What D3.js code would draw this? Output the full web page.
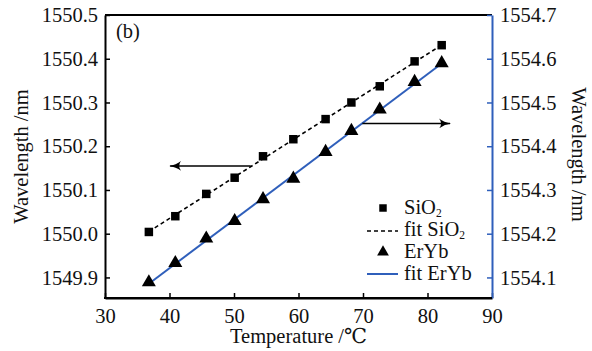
<!DOCTYPE html>
<html><head><meta charset="utf-8">
<script src="https://cdn.jsdelivr.net/npm/d3@7"></script>
<style>body{margin:0;background:#fff}svg{display:block}svg text{font-family:"Liberation Serif","DejaVu Serif",serif !important;fill:#111}</style>
</head><body><svg id="c" width="592" height="351"></svg>
<script>
const temps = [36.8, 40.9, 45.7, 50.1, 54.5, 59.2, 64.2, 68.2, 72.6, 78.0, 82.2];
const sio2  = [1550.004, 1550.040, 1550.091, 1550.128, 1550.177, 1550.216, 1550.262, 1550.300, 1550.337, 1550.394, 1550.431];
const erYb  = [1554.089, 1554.133, 1554.189, 1554.229, 1554.279, 1554.326, 1554.387, 1554.435, 1554.484, 1554.547, 1554.590];
const xTicks = [30, 40, 50, 60, 70, 80, 90];
const leftTicks = [1549.9, 1550.0, 1550.1, 1550.2, 1550.3, 1550.4, 1550.5];
const rightTicks = [1554.1, 1554.2, 1554.3, 1554.4, 1554.5, 1554.6, 1554.7];
const xDomain = [30, 90];
const leftDomain = [1549.853, 1550.5];
const rightDomain = [1554.053, 1554.7];
// annotation arrows in data coords
const leftArrow = {x1: 52.6, x2: 40.1, y: 1550.155};
const rightArrow = {x1: 69.9, x2: 83.5, y: 1554.452};

const blue = "#2f5fbb";
const FONT = "'Liberation Serif','DejaVu Serif',serif";
const svg = d3.select("#c");
const L = 105, R = 492, T = 15, B = 298;
const x = d3.scaleLinear().domain(xDomain).range([L, R]);
const yL = d3.scaleLinear().domain(leftDomain).range([B, T]);
const yR = d3.scaleLinear().domain(rightDomain).range([B, T]);
const FS = 20.5;

svg.append("defs").append("marker").attr("id","ah").attr("viewBox","0 0 12 10")
  .attr("refX",11).attr("refY",5).attr("markerWidth",12).attr("markerHeight",10)
  .attr("markerUnits","userSpaceOnUse").attr("orient","auto")
  .append("path").attr("d","M0,0 Q5,4 12,5 Q5,6 0,10 Q4,5 0,0 Z").attr("fill","#000");

// frame top
svg.append("line").attr("x1",L).attr("x2",R).attr("y1",T).attr("y2",T).attr("stroke","#000").attr("stroke-width",2);

function styleText(g){
  g.attr("font-family",FONT).attr("font-size",FS);
  g.selectAll("text").attr("font-size",FS).attr("font-family",FONT).attr("fill","#111");
}
// bottom axis
const gx = svg.append("g").attr("transform",`translate(0,${B})`)
  .call(d3.axisBottom(x).tickValues(xTicks).tickSizeInner(-5).tickSizeOuter(0).tickPadding(10));
gx.select(".domain").attr("stroke","#000").attr("stroke-width",2);
gx.selectAll(".tick line").attr("stroke","#000").attr("stroke-width",1.5);
styleText(gx);

// left axis
const gl = svg.append("g").attr("transform",`translate(${L},0)`)
  .call(d3.axisLeft(yL).tickValues(leftTicks).tickFormat(d3.format(".1f")).tickSizeInner(-5).tickSizeOuter(0).tickPadding(7));
gl.select(".domain").attr("stroke","#000").attr("stroke-width",2);
gl.selectAll(".tick line").attr("stroke","#000").attr("stroke-width",1.5);
styleText(gl);

// right axis
const gr = svg.append("g").attr("transform",`translate(${R},0)`)
  .call(d3.axisRight(yR).tickValues(rightTicks).tickFormat(d3.format(".1f")).tickSizeInner(-5).tickSizeOuter(0).tickPadding(8));
gr.select(".domain").attr("stroke",blue).attr("stroke-width",2);
gr.selectAll(".tick line").attr("stroke",blue).attr("stroke-width",1.5);
styleText(gr);
svg.append("line").attr("x1",L-1).attr("x2",R).attr("y1",B).attr("y2",B).attr("stroke","#000").attr("stroke-width",2);

// fits
function fit(xs, ys){
  const mx = d3.mean(xs), my = d3.mean(ys);
  const b = d3.sum(xs,(d,i)=>(d-mx)*(ys[i]-my))/d3.sum(xs,d=>(d-mx)*(d-mx));
  return t => my + b*(t-mx);
}
const f1 = fit(temps, sio2), f2 = fit(temps, erYb);
const x0 = temps[0], x1 = temps[temps.length-1];
svg.append("line").attr("x1",x(x0)).attr("x2",x(x1)).attr("y1",yL(f1(x0))).attr("y2",yL(f1(x1)))
  .attr("stroke","#000").attr("stroke-width",1.6).attr("stroke-dasharray","4,3");
svg.append("line").attr("x1",x(x0)).attr("x2",x(x1)).attr("y1",yR(f2(x0))).attr("y2",yR(f2(x1)))
  .attr("stroke",blue).attr("stroke-width",2);

// markers
const sq = d3.symbol().type(d3.symbolSquare).size(72);
const tri = d3.symbol().type(d3.symbolTriangle).size(85);
svg.selectAll(".sq").data(temps).join("path").attr("d",sq)
  .attr("transform",(d,i)=>`translate(${x(d)},${yL(sio2[i])})`).attr("fill","#000");
svg.selectAll(".tri").data(temps).join("path").attr("d",tri)
  .attr("transform",(d,i)=>`translate(${x(d)},${yR(erYb[i])})`).attr("fill","#000");

// arrows
svg.append("line").attr("x1",x(leftArrow.x1)).attr("x2",x(leftArrow.x2)).attr("y1",yL(leftArrow.y)).attr("y2",yL(leftArrow.y))
  .attr("stroke","#000").attr("stroke-width",1.5).attr("marker-end","url(#ah)");
svg.append("line").attr("x1",x(rightArrow.x1)).attr("x2",x(rightArrow.x2)).attr("y1",yR(rightArrow.y)).attr("y2",yR(rightArrow.y))
  .attr("stroke","#000").attr("stroke-width",1.5).attr("marker-end","url(#ah)");

function txt(sel){ return sel.attr("font-family",FONT).attr("font-size",FS).attr("fill","#111"); }
// panel label
txt(svg.append("text")).attr("x",116).attr("y",38).text("(b)");

// axis titles
txt(svg.append("text")).attr("x",(L+R)/2).attr("y",343).attr("text-anchor","middle").text("Temperature /℃");
txt(svg.append("text")).attr("transform",`translate(28,${(T+B)/2}) rotate(-90)`).attr("text-anchor","middle").text("Wavelength /nm");
txt(svg.append("text")).attr("transform",`translate(572,${(T+B)/2 - 2}) rotate(90)`).attr("text-anchor","middle").text("Wavelength /nm");

// legend
const lg = svg.append("g");
const lx = 383, tx = 404;
const rows = [214, 236, 258, 280];
lg.append("path").attr("d",d3.symbol().type(d3.symbolSquare).size(56)).attr("transform",`translate(${lx},${rows[0]-6})`).attr("fill","#000");
lg.append("line").attr("x1",367).attr("x2",398).attr("y1",rows[1]-5).attr("y2",rows[1]-5).attr("stroke","#000").attr("stroke-width",1.6).attr("stroke-dasharray","4,3");
lg.append("path").attr("d",d3.symbol().type(d3.symbolTriangle).size(60)).attr("transform",`translate(${lx},${rows[2]-6})`).attr("fill","#000");
lg.append("line").attr("x1",367).attr("x2",398).attr("y1",rows[3]-6).attr("y2",rows[3]-6).attr("stroke",blue).attr("stroke-width",2);
function sub(t, main){
  const e = txt(lg.append("text")).attr("x",tx).attr("y",t);
  e.append("tspan").text(main);
  e.append("tspan").attr("font-size",11.5).attr("dy",3).text("2");
}
sub(rows[0], "SiO");
sub(rows[1], "fit SiO");
txt(lg.append("text")).attr("x",tx).attr("y",rows[2]).text("ErYb");
txt(lg.append("text")).attr("x",tx).attr("y",rows[3]).text("fit ErYb");
</script></body></html>
